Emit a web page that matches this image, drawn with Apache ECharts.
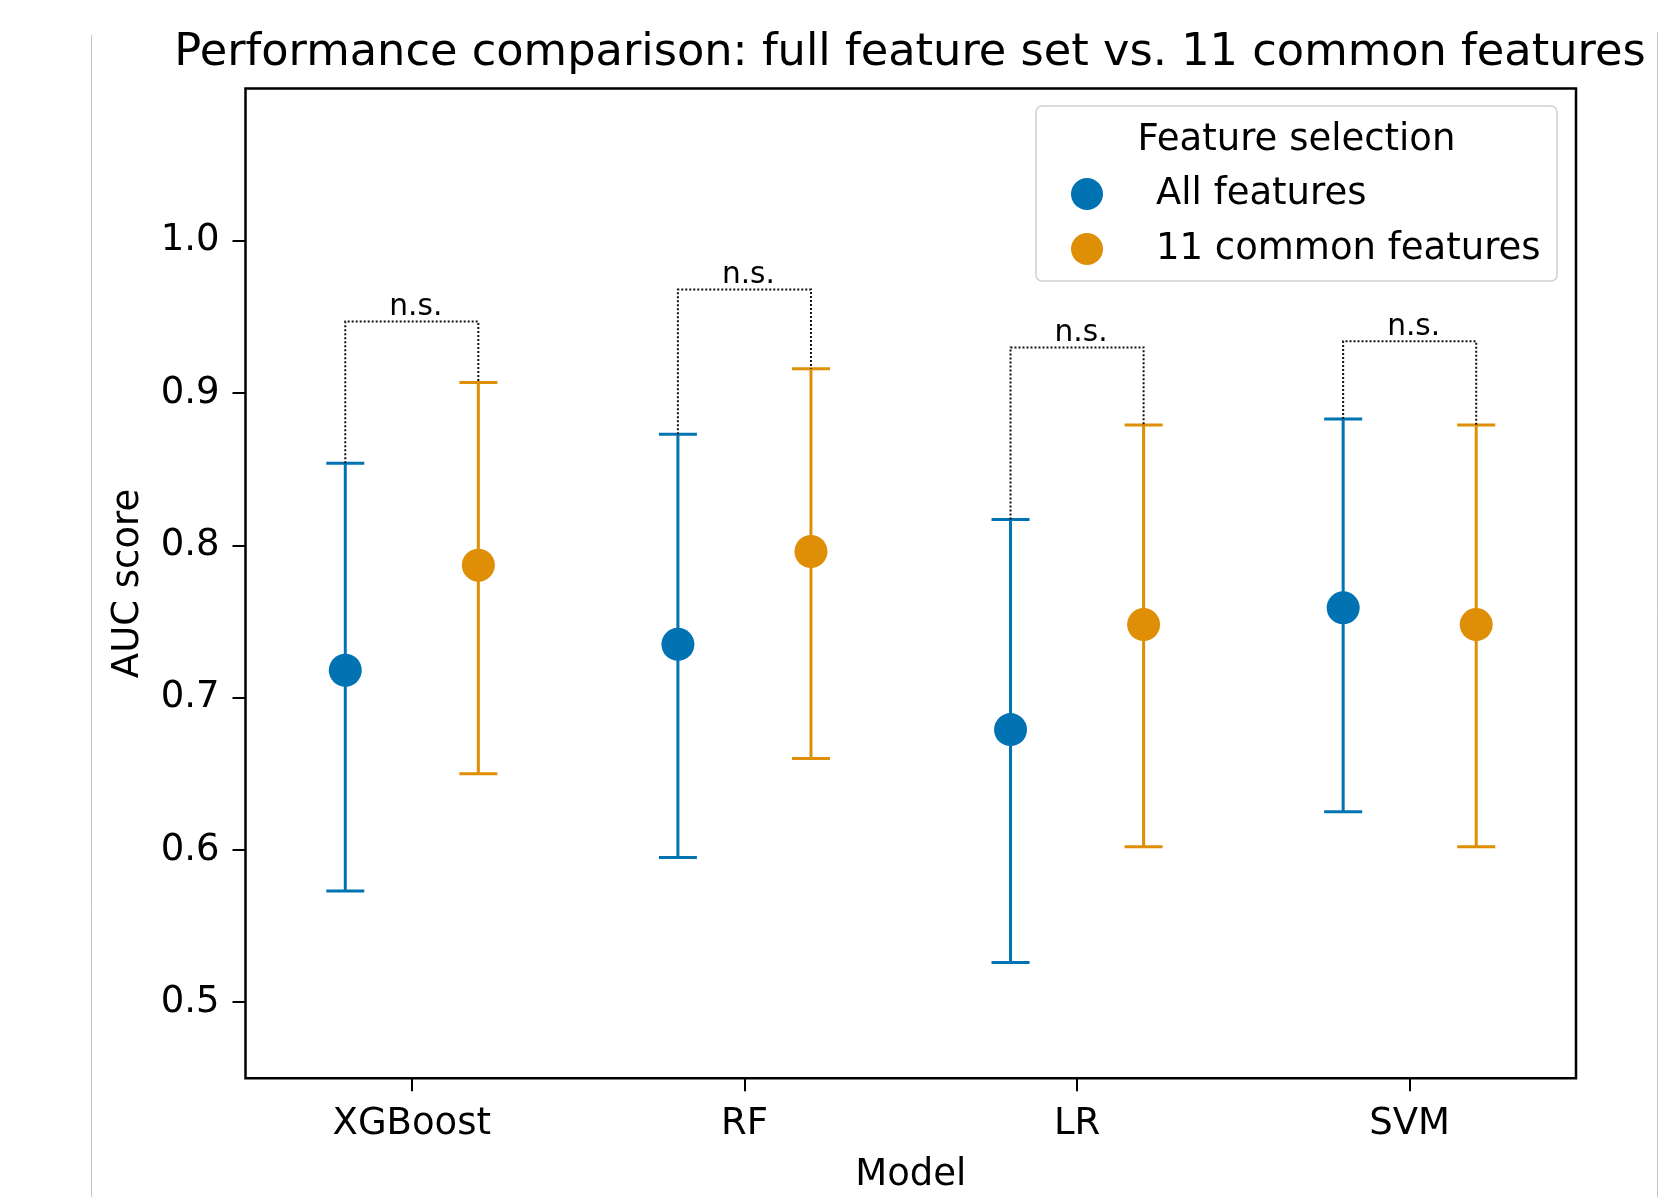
<!DOCTYPE html>
<html><head><meta charset="utf-8">
<script src="https://cdn.jsdelivr.net/npm/echarts@6/dist/echarts.min.js"></script>
<style>html,body{margin:0;padding:0;background:#fff}#c{width:1674px;height:1197px}</style>
</head><body><div id="c"></div>
<script>
// ---- data ----
const categories = ['XGBoost', 'RF', 'LR', 'SVM'];
const seriesNames = ['All features', '11 common features'];
const allMean = [0.718, 0.735, 0.679, 0.759];
const allLow = [0.573, 0.595, 0.526, 0.625];
const allHigh = [0.854, 0.873, 0.817, 0.883];
const commonMean = [0.787, 0.796, 0.748, 0.748];
const commonLow = [0.650, 0.660, 0.602, 0.602];
const commonHigh = [0.907, 0.916, 0.879, 0.879];
const bracketY = [0.947, 0.968, 0.930, 0.934];
const sigLabels = ['n.s.', 'n.s.', 'n.s.', 'n.s.'];
const yTicks = [0.5, 0.6, 0.7, 0.8, 0.9, 1.0];
const xTicks = [0, 1, 2, 3];
const legendTitle = 'Feature selection';
const chartTitle = 'Performance comparison: full feature set vs. 11 common features';
const xName = 'Model';
const yName = 'AUC score';

// ---- style ----
const FONT = 'DejaVu Sans';
const COLORS = ['#0173B2', '#DE8F05'];
const DODGE = 0.2;
const CAP = 19;

function errRender(color) {
  return function (params, api) {
    const x = api.value(0);
    const lo = api.coord([x, api.value(1)]);
    const hi = api.coord([x, api.value(2)]);
    const st = { stroke: color, lineWidth: 3 };
    return {
      type: 'group', children: [
        { type: 'line', shape: { x1: lo[0], y1: lo[1], x2: hi[0], y2: hi[1] }, style: st },
        { type: 'line', shape: { x1: hi[0] - CAP, y1: hi[1], x2: hi[0] + CAP, y2: hi[1] }, style: st },
        { type: 'line', shape: { x1: lo[0] - CAP, y1: lo[1], x2: lo[0] + CAP, y2: lo[1] }, style: st }
      ]
    };
  };
}

function bracketRender(params, api) {
  const i = api.value(0);
  const pL = api.coord([i - DODGE, api.value(2)]);
  const tL = api.coord([i - DODGE, api.value(1)]);
  const tR = api.coord([i + DODGE, api.value(1)]);
  const pR = api.coord([i + DODGE, api.value(3)]);
  return {
    type: 'group', children: [
      { type: 'polyline', shape: { points: [pL, tL, tR, pR] },
        style: { stroke: '#111', lineWidth: 2, lineDash: [2, 2], fill: null } },
      { type: 'text', x: (tL[0] + tR[0]) / 2 + 4, y: tL[1] - 14,
        style: { text: sigLabels[params.dataIndex], fill: '#000', fontSize: 29.6, fontFamily: FONT,
                 align: 'center', verticalAlign: 'middle' } }
    ]
  };
}

const means = [allMean, commonMean];
const lows = [allLow, commonLow];
const highs = [allHigh, commonHigh];
const offsets = [-DODGE, DODGE];

const series = [];
seriesNames.forEach((name, s) => {
  series.push({
    name: name, type: 'scatter', z: 5,
    symbol: 'circle', symbolSize: 33,
    itemStyle: { color: COLORS[s], opacity: 1 },
    data: categories.map((c, i) => [i + offsets[s], means[s][i]])
  });
});
seriesNames.forEach((name, s) => {
  series.push({
    name: name, type: 'custom', z: 3,
    renderItem: errRender(COLORS[s]),
    encode: { x: 0, y: [1, 2] },
    data: categories.map((c, i) => [i + offsets[s], lows[s][i], highs[s][i]])
  });
});
series.push({
  name: 'significance', type: 'custom', z: 3,
  renderItem: bracketRender,
  encode: { x: 0, y: [1, 2, 3] },
  data: categories.map((c, i) => [i, bracketY[i], allHigh[i], commonHigh[i]])
});

const chart = echarts.init(document.getElementById('c'), null, { renderer: 'canvas' });
chart.setOption({
  backgroundColor: '#fff',
  animation: false,
  textStyle: { fontFamily: FONT },
  title: {
    text: chartTitle, left: 910, top: 31, padding: 0, textAlign: 'center',
    textStyle: { fontSize: 44.7, fontWeight: 'normal', color: '#000', fontFamily: FONT }
  },
  grid: {
    left: 245.5, top: 88.6, width: 1330.5, height: 989.7,
    containLabel: false, outerBoundsMode: 'none',
    show: true, borderColor: '#000', borderWidth: 2.5, backgroundColor: 'transparent'
  },
  xAxis: {
    type: 'value', min: -0.5, max: 3.5,
    name: xName, nameLocation: 'middle', nameGap: 79,
    nameTextStyle: { fontSize: 37, color: '#000', fontFamily: FONT },
    axisLine: { show: false, onZero: false },
    splitLine: { show: false },
    axisTick: { show: true, length: 13, lineStyle: { color: '#000', width: 2 }, customValues: xTicks },
    axisLabel: {
      customValues: xTicks, margin: 28, fontSize: 37, color: '#000', fontFamily: FONT,
      formatter: v => categories[Math.round(v)]
    }
  },
  yAxis: {
    type: 'value', min: 0.45, max: 1.1,
    name: yName, nameLocation: 'middle', nameGap: 99,
    nameTextStyle: { fontSize: 37, color: '#000', fontFamily: FONT },
    axisLine: { show: false, onZero: false },
    splitLine: { show: false },
    axisTick: { show: true, length: 13, lineStyle: { color: '#000', width: 2 }, customValues: yTicks },
    axisLabel: {
      customValues: yTicks, margin: 26, fontSize: 37, color: '#000', fontFamily: FONT,
      padding: [6.4, 0, 0, 0],
      formatter: v => v.toFixed(1)
    }
  },
  legend: {
    orient: 'vertical', left: 1071, top: 175.5, padding: 0, z: 6,
    itemWidth: 128, itemHeight: 32, itemGap: 18, icon: 'circle',
    data: seriesNames, selectedMode: false,
    textStyle: { fontSize: 37, color: '#000', fontFamily: FONT }
  },
  graphic: [
    { type: 'rect', z: 4, shape: { x: 1036, y: 106, width: 521, height: 175, r: 6 },
      style: { fill: 'rgba(255,255,255,0.8)', stroke: '#d0d0d0', lineWidth: 1.5 } },
    { type: 'text', z: 6, x: 1296.5, y: 140,
      style: { text: legendTitle, fontSize: 37, fontFamily: FONT, fill: '#000', align: 'center', verticalAlign: 'middle' } },
    { type: 'line', z: 1, shape: { x1: 91.5, y1: 35, x2: 91.5, y2: 1197 }, style: { stroke: '#c4c4c4', lineWidth: 1 } },
    { type: 'line', z: 1, shape: { x1: 1657.5, y1: 32, x2: 1657.5, y2: 1197 }, style: { stroke: '#c4c4c4', lineWidth: 1 } }
  ],
  series: series
});
</script>
</body></html>
